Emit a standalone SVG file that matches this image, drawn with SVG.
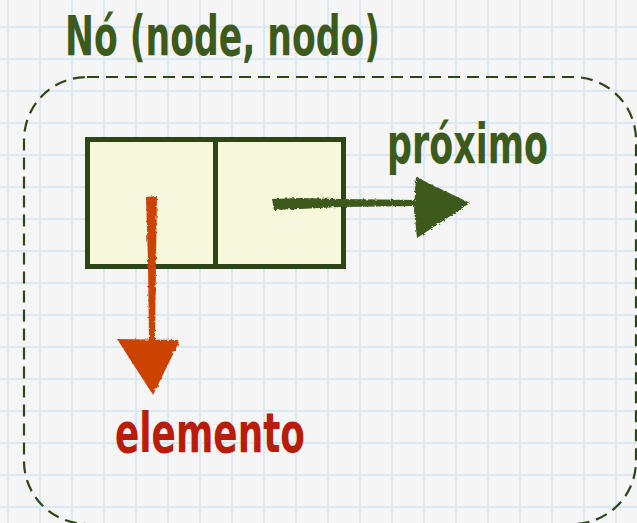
<svg xmlns="http://www.w3.org/2000/svg" width="637" height="523" viewBox="0 0 637 523">
  <style>
    .hand { font-family: "Liberation Sans Narrow", "DejaVu Sans Condensed", "Liberation Sans", sans-serif; font-weight: bold; }
    .green { fill: #3d5a1d; }
    .red { fill: #b81d0b; }
    .cell { fill: #f7f7dc; stroke: #2e4518; stroke-width: 5; }
  </style>
  <defs>
    <pattern id="grid" patternUnits="userSpaceOnUse" x="7" y="26" width="32" height="32">
      <rect x="0" y="0" width="2" height="32" fill="#d9e9f1"/>
      <rect x="0" y="0" width="32" height="2" fill="#d9e9f1"/>
    </pattern>
    <filter id="rough" x="-20%" y="-20%" width="140%" height="140%">
      <feTurbulence type="fractalNoise" baseFrequency="0.35" numOctaves="2" seed="3"/>
      <feDisplacementMap in="SourceGraphic" scale="3"/>
    </filter>
  </defs>
  <rect width="637" height="523" fill="#f5f5f5"/>
  <rect width="637" height="523" fill="url(#grid)"/>

  <g id="title">
    <text class="hand green" x="65" y="55" font-size="55" textLength="315" lengthAdjust="spacingAndGlyphs">Nó (node, nodo)</text>
  </g>

  <g id="container">
    <rect x="24" y="77" width="612" height="447" rx="63" ry="63" fill="none" stroke="#2e4518" stroke-width="2.2" stroke-dasharray="12 7"/>
  </g>

  <g id="node">
    <rect class="cell" x="87.5" y="139.5" width="128" height="127"/>
    <rect class="cell" x="215.5" y="139.5" width="128" height="127"/>
  </g>

  <g id="connectors">
    <g id="next-arrow" fill="#3d5a1d" filter="url(#rough)">
      <polygon points="272,199 300,198 340,199 420,200 420,206 340,207 300,209 274,210"/>
      <polygon points="416,177 470,203 417,238 414,210"/>
    </g>
    <g id="element-arrow" fill="#cc4200" filter="url(#rough)">
      <polygon points="146,197 157,196 156,260 155,345 149,345 148,260"/>
      <polygon points="117,339 180,340 153,395"/>
    </g>
  </g>

  <g id="label-next">
    <text class="hand green" x="387" y="163" font-size="55" textLength="161" lengthAdjust="spacingAndGlyphs">próximo</text>
  </g>
  <g id="label-element">
    <text class="hand red" x="115" y="452" font-size="56" textLength="190" lengthAdjust="spacingAndGlyphs">elemento</text>
  </g>
</svg>
